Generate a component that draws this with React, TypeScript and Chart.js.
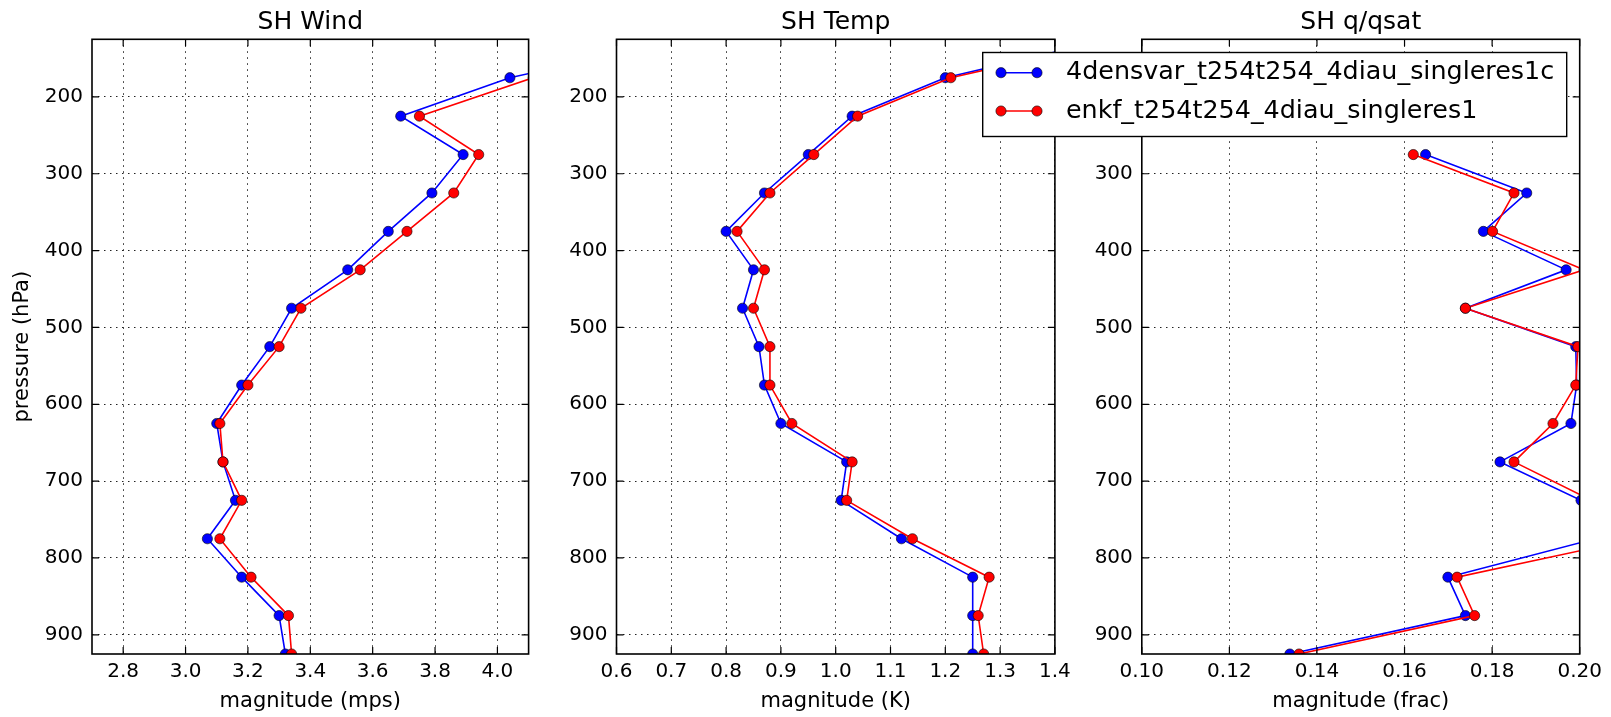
import React, { useEffect, useRef } from 'react';
import { Chart, registerables } from 'chart.js';

Chart.register(...registerables);

const W = 1611;
const H = 717;

// ---------------- data ----------------
const PRESSURE_LEVELS = [125, 175, 225, 275, 325, 375, 425, 475, 525, 575, 625, 675, 725, 775, 825, 875, 925];
const PRESSURE_TICKS = [200, 300, 400, 500, 600, 700, 800, 900];

const SERIES_LABELS = ['4densvar_t254t254_4diau_singleres1c', 'enkf_t254t254_4diau_singleres1'];

const WIND_4DENSVAR = [4.6, 4.04, 3.69, 3.89, 3.79, 3.65, 3.52, 3.34, 3.27, 3.18, 3.1, 3.12, 3.16, 3.07, 3.18, 3.3, 3.32];
const WIND_ENKF = [4.65, 4.115, 3.75, 3.94, 3.86, 3.71, 3.56, 3.37, 3.3, 3.2, 3.11, 3.12, 3.18, 3.11, 3.21, 3.33, 3.34];

const TEMP_4DENSVAR = [1.5, 1.2, 1.03, 0.95, 0.87, 0.8, 0.85, 0.83, 0.86, 0.87, 0.9, 1.02, 1.01, 1.12, 1.25, 1.25, 1.25];
const TEMP_ENKF = [1.52, 1.21, 1.04, 0.96, 0.88, 0.82, 0.87, 0.85, 0.88, 0.88, 0.92, 1.03, 1.02, 1.14, 1.28, 1.26, 1.27];

const QQSAT_4DENSVAR = [null, null, null, 0.1648, 0.1879, 0.178, 0.1969, 0.1739, 0.1991, 0.1993, 0.198, 0.1818, 0.2003, 0.2036, 0.1699, 0.1739, 0.1338];
const QQSAT_ENKF = [null, null, null, 0.162, 0.185, 0.1801, 0.201, 0.1739, 0.1996, 0.1991, 0.1939, 0.185, 0.2027, 0.2128, 0.172, 0.176, 0.1359];

const WIND_TICKS = [2.8, 3.0, 3.2, 3.4, 3.6, 3.8, 4.0];
const TEMP_TICKS = [0.6, 0.7, 0.8, 0.9, 1.0, 1.1, 1.2, 1.3, 1.4];
const QQSAT_TICKS = [0.1, 0.12, 0.14, 0.16, 0.18, 0.2];

// ---------------- layout / style ----------------
const FONT = 'DejaVu Sans';
const PLOT_BOTTOM = 654;
const Y_AXIS_W = 92;
const BLUE = '#0000ff';
const RED = '#ff0000';
const MARKER_R = 5.1;
const LINE_W = 1.6;

type Panel = {
  title: string;
  xLabel: string;
  yLabel?: string;
  left: number;
  right: number;
  xMin: number;
  xMax: number;
  ticks: number[];
  decimals: number;
  a: (number | null)[];
  b: (number | null)[];
  legend?: boolean;
};

const PANELS: Panel[] = [
  { title: 'SH Wind', xLabel: 'magnitude (mps)', yLabel: 'pressure (hPa)', left: 92, right: 528.6, xMin: 2.7, xMax: 4.1, ticks: WIND_TICKS, decimals: 1, a: WIND_4DENSVAR, b: WIND_ENKF },
  { title: 'SH q/qsat', xLabel: 'magnitude (frac)', left: 1141.8, right: 1579.7, xMin: 0.1, xMax: 0.2, ticks: QQSAT_TICKS, decimals: 2, a: QQSAT_4DENSVAR, b: QQSAT_ENKF },
  { title: 'SH Temp', xLabel: 'magnitude (K)', left: 616.5, right: 1054.9, xMin: 0.6, xMax: 1.4, ticks: TEMP_TICKS, decimals: 1, a: TEMP_4DENSVAR, b: TEMP_ENKF, legend: true },
];

const LEGEND_BOX = { left: 982.7, top: 52.5, right: 1566.7, bottom: 136.5, rows: [72.7, 111], lineX1: 1001, lineX2: 1037, textX: 1066, fontSize: 25.4 };

const framePlugin = {
  id: 'frame',
  afterDatasetsDraw(chart: any) {
    const { ctx, chartArea } = chart;
    const { left, right, top, bottom } = chartArea;
    const xs = chart.scales.x;
    const ys = chart.scales.y;
    const TL = 7;
    ctx.save();
    ctx.strokeStyle = '#000';
    ctx.lineWidth = 1.2;
    ctx.beginPath();
    xs.ticks.forEach((t: any) => {
      const px = xs.getPixelForValue(t.value);
      ctx.moveTo(px, bottom); ctx.lineTo(px, bottom - TL);
      ctx.moveTo(px, top); ctx.lineTo(px, top + TL);
    });
    ys.ticks.forEach((t: any) => {
      const py = ys.getPixelForValue(t.value);
      ctx.moveTo(left, py); ctx.lineTo(left + TL, py);
      ctx.moveTo(right, py); ctx.lineTo(right - TL, py);
    });
    ctx.stroke();
    ctx.lineWidth = 1.6;
    ctx.strokeRect(left, top, right - left, bottom - top);
    ctx.restore();
  },
};

function drawMarker(ctx: CanvasRenderingContext2D, x: number, y: number, color: string) {
  ctx.beginPath();
  ctx.arc(x, y, MARKER_R, 0, Math.PI * 2);
  ctx.fillStyle = color;
  ctx.fill();
  ctx.lineWidth = 0.6;
  ctx.strokeStyle = '#000';
  ctx.stroke();
}

const legendPlugin = {
  id: 'customLegend',
  afterDraw(chart: any) {
    const opts = chart.options.plugins.customLegend;
    if (!opts || !opts.show) return;
    const ctx = chart.ctx as CanvasRenderingContext2D;
    const L = LEGEND_BOX;
    ctx.save();
    ctx.fillStyle = '#fff';
    ctx.fillRect(L.left, L.top, L.right - L.left, L.bottom - L.top);
    ctx.strokeStyle = '#000';
    ctx.lineWidth = 1.4;
    ctx.strokeRect(L.left, L.top, L.right - L.left, L.bottom - L.top);
    const colors = [BLUE, RED];
    chart.data.datasets.forEach((ds: any, i: number) => {
      const y = L.rows[i];
      ctx.beginPath();
      ctx.moveTo(L.lineX1, y);
      ctx.lineTo(L.lineX2, y);
      ctx.strokeStyle = colors[i];
      ctx.lineWidth = LINE_W;
      ctx.stroke();
      drawMarker(ctx, L.lineX1, y, colors[i]);
      drawMarker(ctx, L.lineX2, y, colors[i]);
      ctx.fillStyle = '#000';
      ctx.font = `${L.fontSize}px "${FONT}"`;
      ctx.textBaseline = 'middle';
      ctx.textAlign = 'left';
      ctx.fillText(ds.label, L.textX, y);
    });
    ctx.restore();
  },
};

function buildData(vals: (number | null)[]) {
  return PRESSURE_LEVELS.map((p, i) => ({ x: vals[i], y: p })).filter((d) => d.x !== null);
}

function makeDataset(label: string, vals: (number | null)[], color: string, order: number) {
  return {
    label,
    data: buildData(vals),
    borderColor: color,
    backgroundColor: color,
    borderWidth: LINE_W,
    pointRadius: MARKER_R,
    pointHoverRadius: MARKER_R,
    pointBackgroundColor: color,
    pointBorderColor: '#000',
    pointBorderWidth: 0.6,
    tension: 0,
    fill: false,
    clip: 0,
    order,
  };
}

function PanelChart({ panel }: { panel: Panel }) {
  const ref = useRef<HTMLCanvasElement | null>(null);
  useEffect(() => {
    if (!ref.current) return;
    const p = panel;
    const chart = new Chart(ref.current, {
      type: 'line',
      data: {
        datasets: [
          makeDataset(SERIES_LABELS[0], p.a, BLUE, 2),
          makeDataset(SERIES_LABELS[1], p.b, RED, 1),
        ],
      },
      options: {
        animation: false,
        responsive: false,
        maintainAspectRatio: false,
        events: [],
        layout: { padding: { left: p.left - Y_AXIS_W, right: W - p.right, top: 0, bottom: 0 } },
        plugins: {
          legend: { display: false },
          tooltip: { enabled: false },
          title: {
            display: true,
            text: p.title,
            fullSize: false,
            color: '#000',
            font: { family: FONT, size: 25, weight: 'normal', lineHeight: 1.2 },
            padding: { top: 7, bottom: 2.3 },
          },
          customLegend: { show: !!p.legend },
        } as any,
        scales: {
          x: {
            type: 'linear',
            min: p.xMin,
            max: p.xMax,
            afterBuildTicks: (s: any) => {
              s.ticks = p.ticks.map((v) => ({ value: v }));
            },
            afterFit: (s: any) => {
              s.height = H - PLOT_BOTTOM;
            },
            grid: { color: '#222', lineWidth: 1, drawTicks: false },
            border: { display: false, dash: [1.5, 4.5] },
            ticks: {
              padding: 6,
              autoSkip: false,
              maxRotation: 0,
              color: '#000',
              font: { family: FONT, size: 20 },
              callback: (v: any) => Number(v).toFixed(p.decimals),
            },
            title: {
              display: true,
              text: p.xLabel,
              color: '#000',
              font: { family: FONT, size: 21 },
              padding: { top: 0, bottom: 2.5 },
            },
          },
          y: {
            type: 'linear',
            reverse: true,
            min: 125,
            max: 925,
            afterBuildTicks: (s: any) => {
              s.ticks = PRESSURE_TICKS.map((v) => ({ value: v }));
            },
            afterFit: (s: any) => {
              s.width = Y_AXIS_W;
            },
            grid: { color: '#222', lineWidth: 1, drawTicks: false },
            border: { display: false, dash: [1.5, 4.5] },
            ticks: {
              padding: 9,
              autoSkip: false,
              color: '#000',
              font: { family: FONT, size: 20 },
              callback: (v: any) => String(v),
            },
            title: {
              display: !!p.yLabel,
              text: p.yLabel || '',
              color: '#000',
              font: { family: FONT, size: 21 },
              padding: { top: 10, bottom: 0 },
            },
          },
        },
      } as any,
      plugins: [framePlugin, legendPlugin],
    });
    return () => chart.destroy();
  }, [panel]);
  return (
    <canvas
      ref={ref}
      width={W}
      height={H}
      style={{ position: 'absolute', left: 0, top: 0, width: W, height: H }}
    />
  );
}

export default function App() {
  return (
    <div style={{ position: 'absolute', left: 0, top: 0, width: W, height: H, background: '#fff' }}>
      {PANELS.map((p) => (
        <PanelChart key={p.title} panel={p} />
      ))}
    </div>
  );
}
